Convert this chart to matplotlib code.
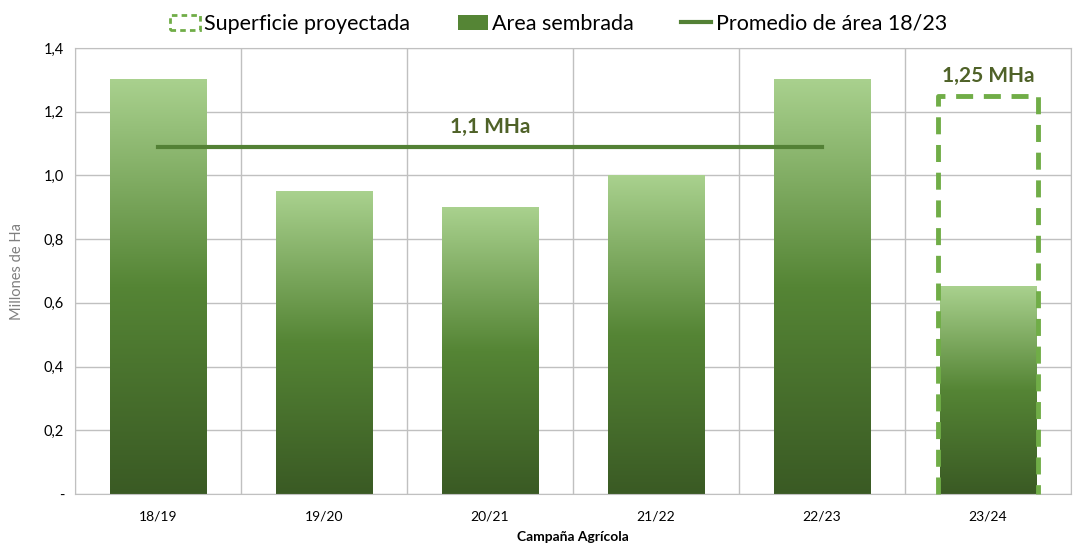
import numpy as np
import matplotlib.pyplot as plt
from matplotlib.patches import Patch
from matplotlib.lines import Line2D
from matplotlib.colors import LinearSegmentedColormap

campanas = ["18/19", "19/20", "20/21", "21/22", "22/23", "23/24"]
area_sembrada = [1.30, 0.95, 0.90, 1.00, 1.30, 0.65]
superficie_proyectada = 1.25
promedio = np.mean(area_sembrada[:5])
yticks = [0, 0.2, 0.4, 0.6, 0.8, 1.0, 1.2, 1.4]
ytick_labels = ["-", "0,2", "0,4", "0,6", "0,8", "1,0", "1,2", "1,4"]

plt.rcParams['font.family'] = ['Lato', 'DejaVu Sans']

fig = plt.figure(figsize=(10.74, 5.52), dpi=100)
ax = fig.add_axes([0.07, 0.105, 0.927, 0.808])

grad = LinearSegmentedColormap.from_list("verde", ["#3a5a24", "#558535", "#a9d18e"])
img = np.linspace(0, 1, 256).reshape(-1, 1)
w = 0.58
x = np.arange(len(campanas))
for xi, v in zip(x, area_sembrada):
    ax.imshow(img, cmap=grad, origin="lower", aspect="auto",
              extent=(xi - w / 2, xi + w / 2, 0, v), zorder=2)

# superficie proyectada (dashed box, open at the bottom)
bx = x[-1]
ax.plot([bx - 0.3, bx - 0.3, bx + 0.3, bx + 0.3],
        [0, superficie_proyectada, superficie_proyectada, 0],
        color="#70ad47", lw=3.5, ls=(0, (3.5, 2.2)), zorder=3, clip_on=False)
ax.text(bx, superficie_proyectada + 0.03, "1,25 MHa", ha="center", va="bottom",
        fontsize=15, fontweight="bold", color="#4f6228")

# promedio
ax.plot([x[0], x[4]], [promedio, promedio], color="#538135", lw=3, zorder=3)
ax.text(2, promedio + 0.03, "1,1 MHa", ha="center", va="bottom",
        fontsize=15, fontweight="bold", color="#4f6228")

ax.set_xlim(-0.5, len(campanas) - 0.5)
ax.set_ylim(0, 1.4)
ax.set_xticks(x)
ax.set_xticklabels(campanas, fontsize=10)
ax.set_xticks(np.arange(-0.5, len(campanas)), minor=True)
ax.set_yticks(yticks)
ax.set_yticklabels(ytick_labels, fontsize=10.5)
ax.tick_params(which="both", length=0, pad=12)
ax.tick_params(axis="y", pad=8)
ax.grid(True, axis="y", color="#c0c0c0", lw=1)
ax.grid(True, axis="x", which="minor", color="#c0c0c0", lw=1)
ax.set_axisbelow(True)
for s in ax.spines.values():
    s.set_color("#c0c0c0")
ax.set_xlabel("Campaña Agrícola", fontsize=10, fontweight="bold", labelpad=6)
ax.set_ylabel("Millones de Ha", fontsize=10.5, color="#7f7f7f", labelpad=14)

handles = [Patch(facecolor="none", edgecolor="#70ad47", lw=2, ls=(0, (2, 1.5))),
           Patch(facecolor="#558535"),
           Line2D([], [], color="#538135", lw=3)]
labels = ["Superficie proyectada", "Area sembrada", "Promedio de área 18/23"]
fig.legend(handles, labels, loc="upper center", bbox_to_anchor=(0.52, 1.01), ncol=3,
           frameon=False, fontsize=15.5, handlelength=1.4, handletextpad=0.2,
           columnspacing=2.2)

fig.savefig("out.png", dpi=100)
